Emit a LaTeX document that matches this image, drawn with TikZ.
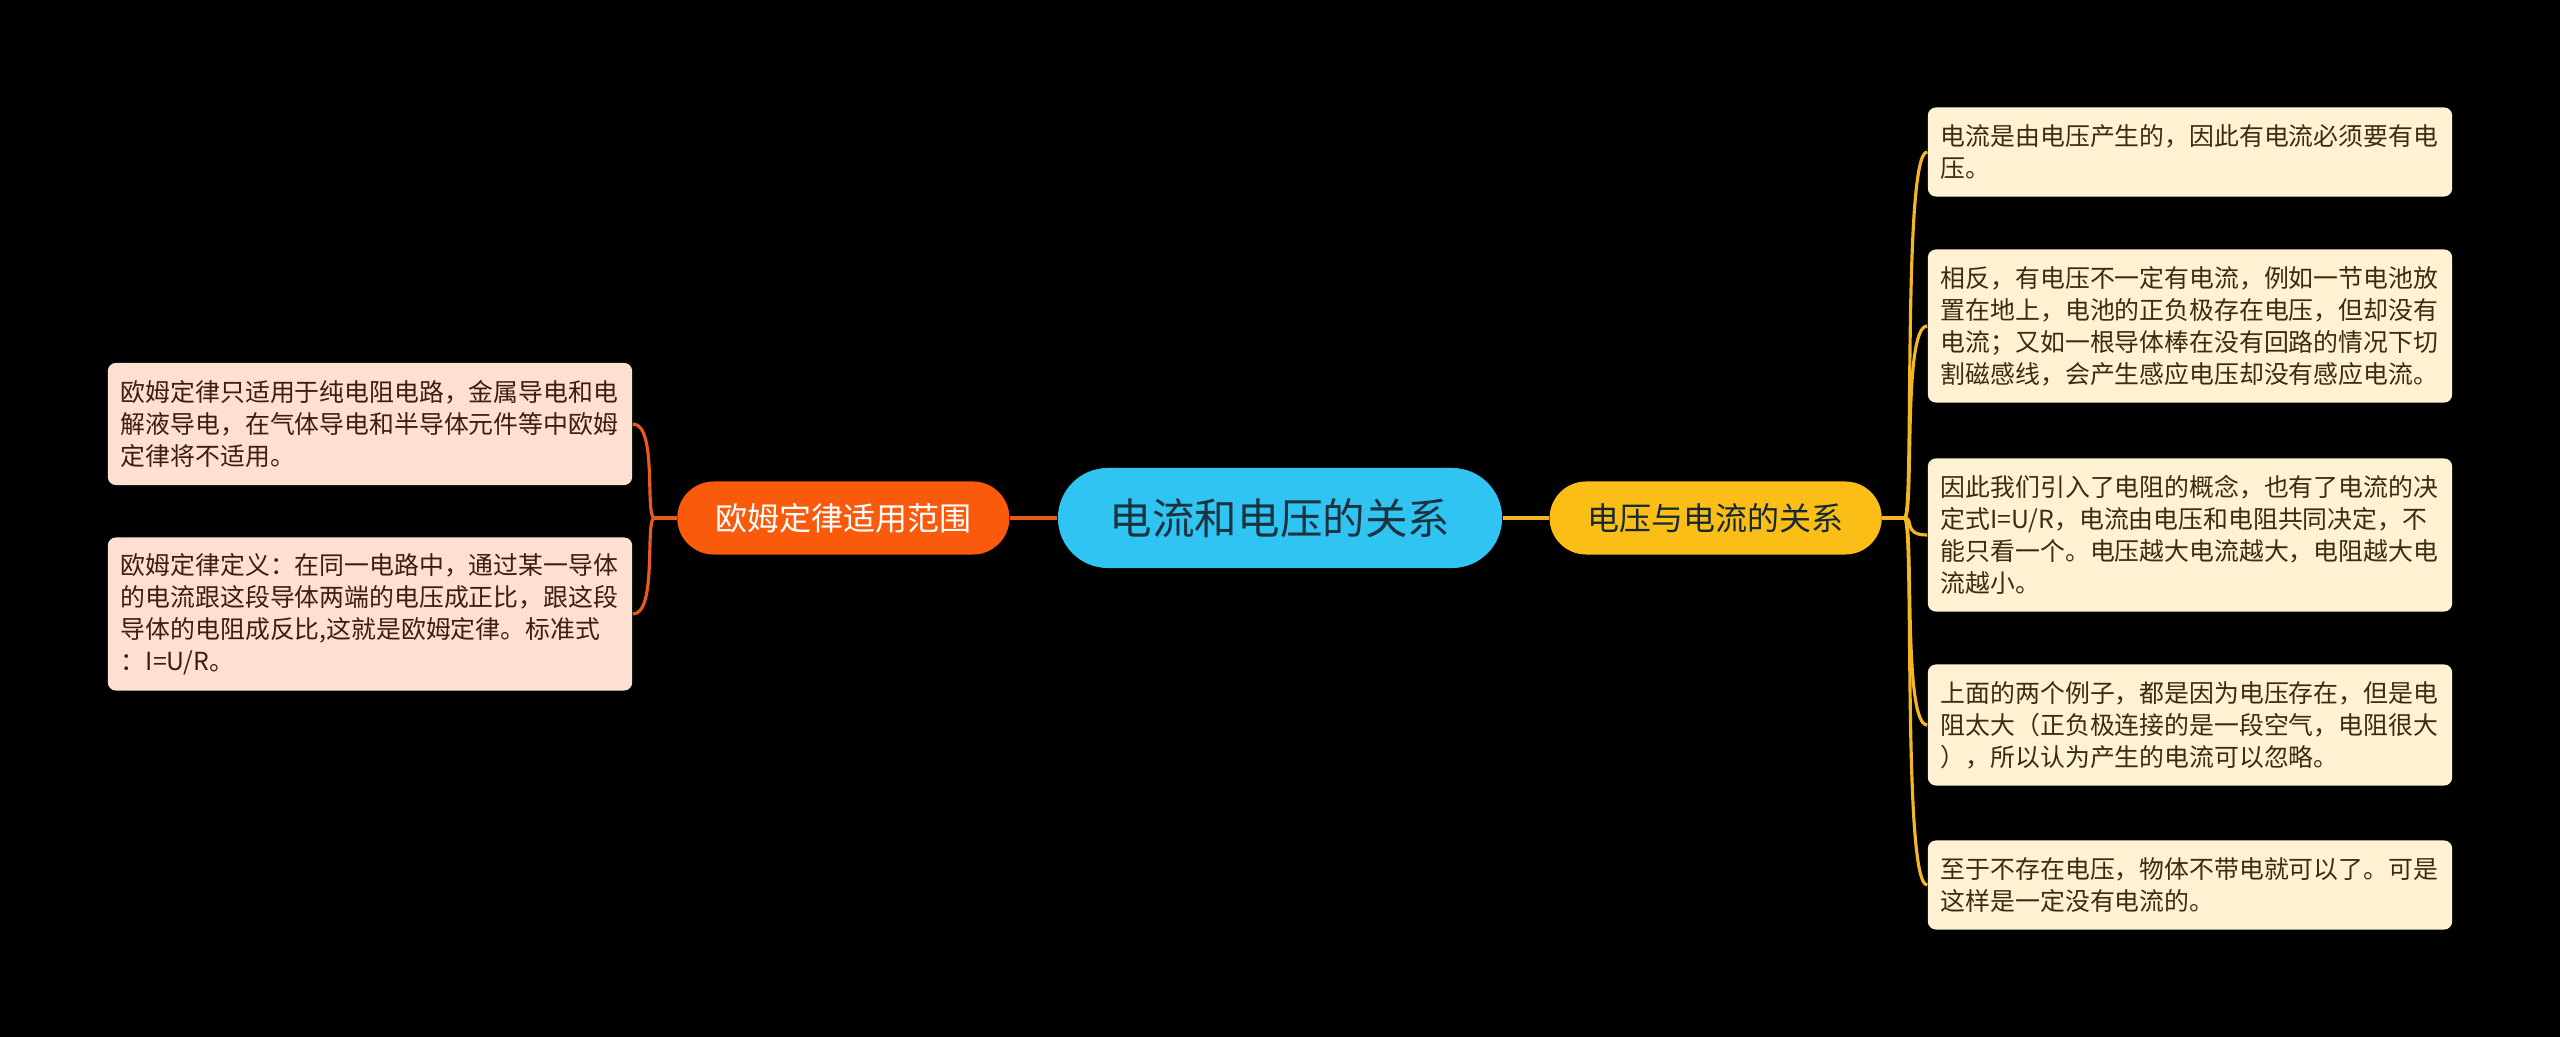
\documentclass[tikz,border=0pt]{standalone}
\usepackage{fontspec}
\newfontfamily\cjk{Noto Sans CJK SC}
\usetikzlibrary{positioning}

\definecolor{topicblue}{HTML}{30C4F3}
\definecolor{topicink}{HTML}{1B3340}
\definecolor{ohmorange}{HTML}{FA5A0C}
\definecolor{ohmline}{HTML}{E85A1E}
\definecolor{ohmpeach}{HTML}{FDE0D2}
\definecolor{ohmink}{HTML}{3B1E12}
\definecolor{relyellow}{HTML}{FBBE17}
\definecolor{relline}{HTML}{F4B622}
\definecolor{relcream}{HTML}{FFF2D3}
\definecolor{relink}{HTML}{3A2C12}

\begin{document}
\begin{tikzpicture}[x=0.01cm,y=-0.01cm,
	topic/.style={fill=topicblue,text=topicink,rounded corners=0.5cm,
		minimum width=4.44cm,minimum height=1cm,
		font=\cjk\fontsize{12.1pt}{14pt}\selectfont},
	subtopic/.style={rounded corners=0.365cm,minimum width=3.32cm,
		minimum height=0.73cm,font=\cjk\fontsize{9.1pt}{11pt}\selectfont},
	leaf/.style={rounded corners=0.08cm,text width=4.98cm,align=left,
		inner xsep=0.13cm,inner ysep=0cm,
		font=\cjk\fontsize{7.07pt}{9.1pt}\selectfont},
	ohmleaf/.style={leaf,fill=ohmpeach,text=ohmink},
	relleaf/.style={leaf,fill=relcream,text=relink},
	ohmwire/.style={draw=ohmline,line width=0.9pt},
	relwire/.style={draw=relline,line width=0.9pt}]

	\fill[black] (0,0) rectangle (2560,1037);
	\useasboundingbox (0,0) rectangle (2560,1037);

	\node[topic] (topic) at (1280,518) {电流和电压的关系};
	\node[subtopic,fill=ohmorange,text=white] (ohm) [left=0.47cm of topic] {欧姆定律适用范围};
	\node[subtopic,fill=relyellow,text=topicink!80!black] (rel) [right=0.46cm of topic] {电压与电流的关系};

	% left side
	\node[ohmleaf,minimum height=1.22cm] (ohma) at (370,424)
		{欧姆定律只适用于纯电阻电路，金属导电和电\\解液导电，在气体导电和半导体元件等中欧姆\\定律将不适用。};
	\node[ohmleaf,minimum height=1.53cm] (ohmb) at (370,614)
		{欧姆定律定义：在同一电路中，通过某一导体\\的电流跟这段导体两端的电压成正比，跟这段\\导体的电阻成反比,这就是欧姆定律。标准式\\：I=U/R。};

	% right side
	\node[relleaf,minimum height=0.89cm] (rela) at (2190,152)
		{电流是由电压产生的，因此有电流必须要有电\\压。};
	\node[relleaf,minimum height=1.53cm] (relb) at (2190,326)
		{相反，有电压不一定有电流，例如一节电池放\\置在地上，电池的正负极存在电压，但却没有\\电流；又如一根导体棒在没有回路的情况下切\\割磁感线，会产生感应电压却没有感应电流。};
	\node[relleaf,minimum height=1.53cm] (relc) at (2190,535)
		{因此我们引入了电阻的概念，也有了电流的决\\定式I=U/R，电流由电压和电阻共同决定，不\\能只看一个。电压越大电流越大，电阻越大电\\流越小。};
	\node[relleaf,minimum height=1.21cm] (reld) at (2190,725)
		{上面的两个例子，都是因为电压存在，但是电\\阻太大（正负极连接的是一段空气，电阻很大\\），所以认为产生的电流可以忽略。};
	\node[relleaf,minimum height=0.89cm] (rele) at (2190,885)
		{至于不存在电压，物体不带电就可以了。可是\\这样是一定没有电流的。};

	\coordinate[left=0.22cm of ohm.west] (ohmfork);
	\coordinate[right=0.22cm of rel.east] (relfork);

	\path[ohmwire] (topic) -- (ohm) (ohm.west) -- (ohmfork);
	\path[relwire] (topic) -- (rel) (rel.east) -- (relfork);

	\foreach \n in {ohma,ohmb}
		\draw[ohmwire] (ohmfork) .. controls +(-10,0) and +(25,0) .. (\n.east);
	\foreach \n in {rela,relb,relc,reld,rele}
		\draw[relwire] (relfork) .. controls +(10,0) and +(-25,0) .. (\n.west);
\end{tikzpicture}
\end{document}
